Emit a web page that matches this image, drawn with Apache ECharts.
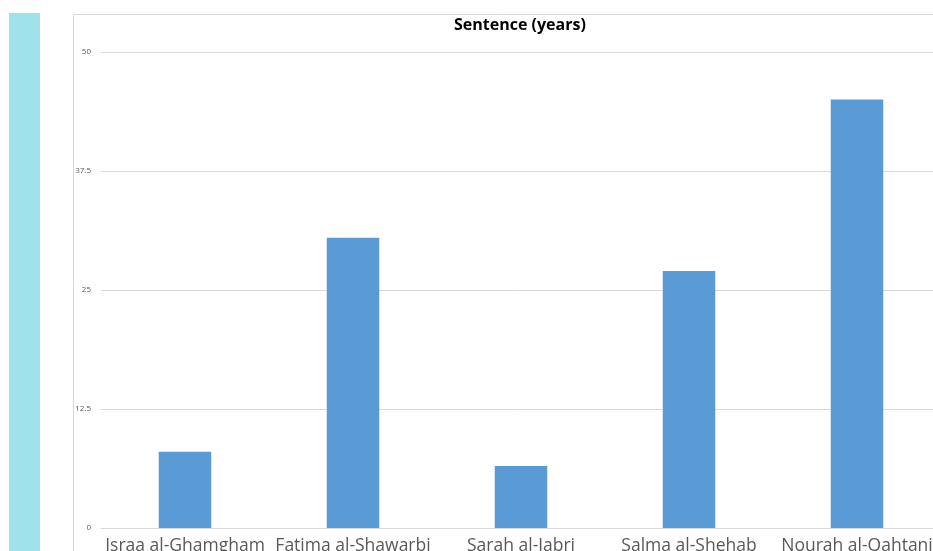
<!DOCTYPE html>
<html><head><meta charset="utf-8">
<script src="https://cdn.jsdelivr.net/npm/echarts@6/dist/echarts.min.js"></script>
<style>html,body{margin:0;padding:0;background:#fff}#c{width:933px;height:551px}</style>
</head><body><div id="c"></div>
<script>
const categories = ["Israa al-Ghamgham","Fatima al-Shawarbi","Sarah al-Jabri","Salma al-Shehab","Nourah al-Qahtani"];
const sentenceYears = [8, 30.5, 6.5, 27, 45];
const yTicks = [0, 12.5, 25, 37.5, 50];

const chart = echarts.init(document.getElementById('c'), null, {renderer:'canvas'});
chart.setOption({
  animation:false,
  title:{text:'Sentence (years)', left:449, top:12,
    textStyle:{fontFamily:'Open Sans', fontWeight:'bold', fontSize:16, color:'#000'}},
  graphic:[
    {type:'rect', shape:{x:9,y:13,width:31,height:560}, style:{fill:'#a0e2ec'}, silent:true},
    {type:'line', shape:{x1:73.5,y1:600,x2:73.5,y2:14.5}, style:{stroke:'#d9d9d9', lineWidth:1}, silent:true},
    {type:'line', shape:{x1:73.5,y1:14.5,x2:960,y2:14.5}, style:{stroke:'#d9d9d9', lineWidth:1}, silent:true}
  ],
  grid:{left:101, top:52, width:840, height:476, outerBoundsMode:'none', containLabel:false},
  xAxis:{type:'category', data:categories,
    axisLine:{lineStyle:{color:'#d9d9d9'}}, axisTick:{show:false},
    axisLabel:{fontFamily:'Open Sans', fontSize:17.5, color:'#595959', margin:9, interval:0}},
  yAxis:{type:'value', min:0, max:50, interval:12.5,
    axisLine:{show:false}, axisTick:{show:false},
    splitLine:{lineStyle:{color:'#d9d9d9'}},
    axisLabel:{fontFamily:'Open Sans', fontSize:8, color:'#595959', margin:10,
      formatter:v=>yTicks.includes(v)?String(v):''}},
  series:[{type:'bar', data:sentenceYears, barWidth:52.5, itemStyle:{color:'#5b9bd5'}}]
});
</script></body></html>
